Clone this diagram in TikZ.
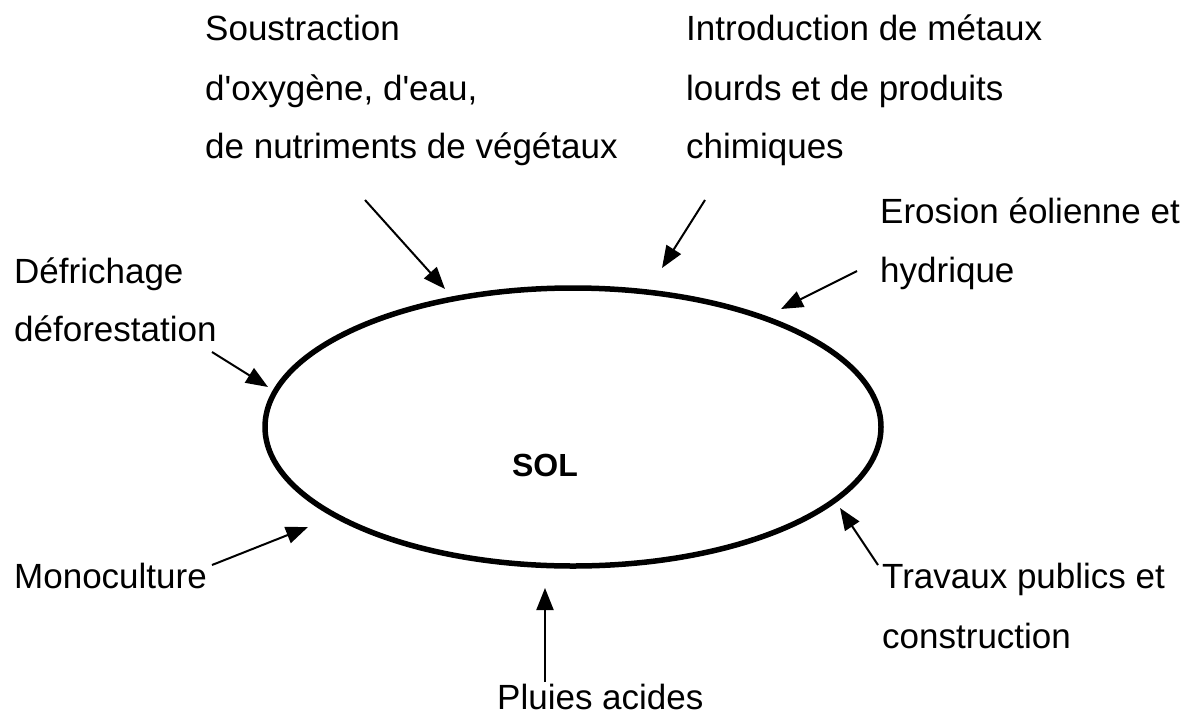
\documentclass[tikz,border=0pt]{standalone}
\usepackage{fontspec}
\setmainfont{Liberation Sans}
\usetikzlibrary{arrows.meta,shapes.geometric}
\begin{document}
\begin{tikzpicture}[x=1pt,y=-1pt,
  txt/.style={anchor=base west, inner sep=0pt, font=\fontsize{35}{42}\selectfont},
  arr/.style={line width=2pt, -{Triangle[length=22pt,width=17pt]}},
  soilshape/.style={draw, ellipse, line width=5.5pt, minimum width=616pt, minimum height=278pt, inner sep=0pt}]
\useasboundingbox (0,0) rectangle (1196,715);
% central ellipse
\node[soilshape] (soil) at (573,427) {};
\node[inner sep=0pt, font=\fontsize{32}{38}\bfseries\selectfont] (sol) at (545,465) {SOL};
% labels
\node[txt] (sous1) at (205,40) {Soustraction};
\node[txt] (sous2) at (205,100) {d\textquotesingle oxygène, d\textquotesingle eau,};
\node[txt] (sous3) at (205,158) {de nutriments de végétaux};
\node[txt] (intro1) at (686,40) {Introduction de métaux};
\node[txt] (intro2) at (686,100) {lourds et de produits};
\node[txt] (intro3) at (686,158) {chimiques};
\node[txt] (ero1) at (880,223) {Erosion éolienne et};
\node[txt] (ero2) at (880,282) {hydrique};
\node[txt] (def1) at (14,283) {Défrichage};
\node[txt] (def2) at (14,341) {déforestation};
\node[txt] (mono) at (14,588) {Monoculture};
\node[txt] (trav1) at (882,588) {Travaux publics et};
\node[txt] (trav2) at (882,648) {construction};
\node[txt] (pluie) at (497,709) {Pluies acides};
% arrow ends
\coordinate (sousT) at (365,200); \coordinate (sousH) at (445,289);
\coordinate (introT) at (705,200); \coordinate (introH) at (662,268);
\coordinate (eroT) at (857,271); \coordinate (eroH) at (781,309);
\coordinate (defT) at (212,352); \coordinate (defH) at (268,387);
\coordinate (monoT) at (212,565); \coordinate (monoH) at (308,527);
\coordinate (pluieT) at (545,682); \coordinate (pluieH) at (545,588);
\coordinate (travT) at (878,565); \coordinate (travH) at (840,508);
\draw[arr] (sousT) -- (sousH);
\draw[arr] (introT) -- (introH);
\draw[arr] (eroT) -- (eroH);
\draw[arr] (defT) -- (defH);
\draw[arr] (monoT) -- (monoH);
\draw[arr] (pluieT) -- (pluieH);
\draw[arr] (travT) -- (travH);
\end{tikzpicture}
\end{document}
